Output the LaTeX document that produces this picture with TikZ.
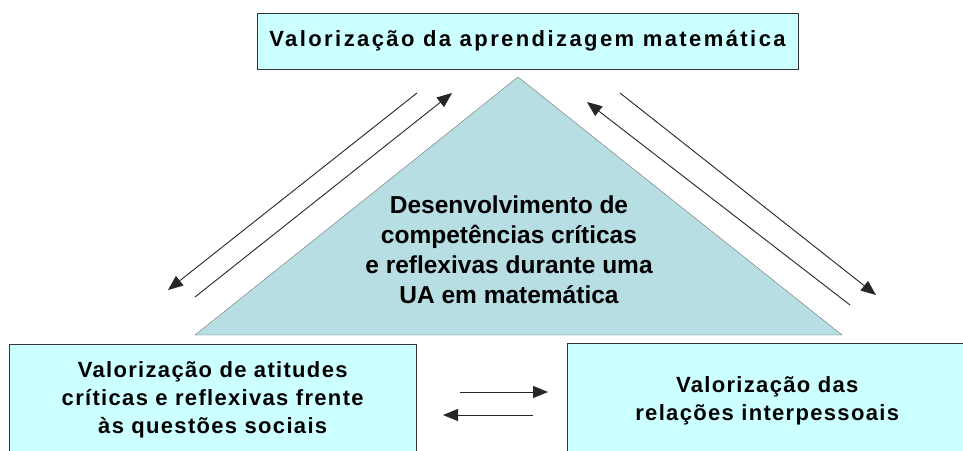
\documentclass[tikz,border=0pt]{standalone}
\usepackage{fontspec}
\setmainfont{Liberation Sans}
\newfontfamily\widefont{Liberation Sans}[LetterSpace=11]
\newfontfamily\boxfont{Liberation Sans}[LetterSpace=6]
\usetikzlibrary{arrows.meta}
\definecolor{boxcyan}{RGB}{204,255,255}
\definecolor{tealgray}{RGB}{183,222,227}

\begin{document}
\begin{tikzpicture}[x=1pt, y=-1pt, >={Triangle[length=15pt, width=12pt]},
  panel/.style={rectangle, draw=black!80, fill=boxcyan, inner sep=0pt, align=center},
  link/.style={->, draw=black!85, line width=0.9pt}]

\useasboundingbox (0,0) rectangle (963,450);
\clip (0,0) rectangle (963,450);
\fill[white] (0,0) rectangle (963,450);

\draw[draw=black!55, fill=tealgray] (518,77) -- (842,335) -- (195,335) -- cycle;
\node(0) [align=center, font=\bfseries\fontsize{24.5}{30}\selectfont] at (509,250) {Desenvolvimento de\\ competências críticas\\ e reflexivas durante uma\\ UA em matemática};

\node(1) [panel, minimum width=541, minimum height=56, font=\widefont\bfseries\fontsize{22}{28}\selectfont] at (527.5,41) {Valorização da aprendizagem matemática};

\node(2) [panel, anchor=north west, minimum width=407, minimum height=112, font=\boxfont\bfseries\fontsize{22}{28}\selectfont] at (9,344) {Valorização de atitudes\\ críticas e reflexivas frente\\ às questões sociais};

\node(3) [panel, anchor=north west, minimum width=400, minimum height=116, font=\boxfont\bfseries\fontsize{22}{28}\selectfont] at (567,343) {Valorização das\\ relações interpessoais};

\coordinate (1a) at (417,93);
\coordinate (2a) at (168,290);
\coordinate (2b) at (195,297);
\coordinate (1b) at (452,93);
\coordinate (3a) at (850,305);
\coordinate (1c) at (587,102);
\coordinate (1d) at (620,93);
\coordinate (3b) at (876,295);
\coordinate (2c) at (460,392);
\coordinate (3c) at (548,392);
\coordinate (3d) at (533,415);
\coordinate (2d) at (443,415);

\draw [link] (1a) -- (2a);
\draw [link] (2b) -- (1b);
\draw [link] (3a) -- (1c);
\draw [link] (1d) -- (3b);
\draw [link] (2c) -- (3c);
\draw [link] (3d) -- (2d);

\end{tikzpicture}
\end{document}
